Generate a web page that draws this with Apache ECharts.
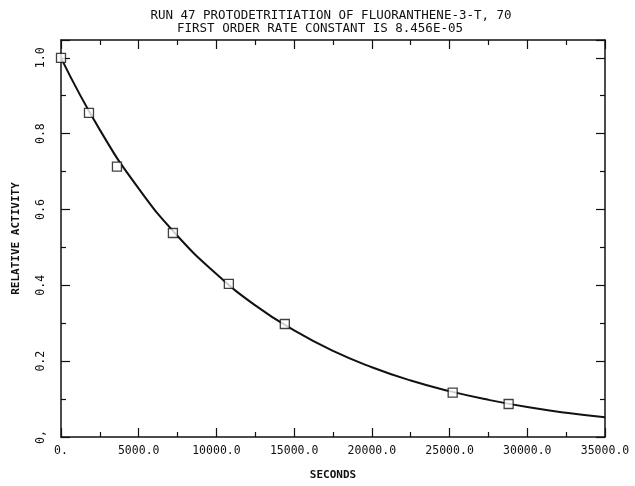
<!DOCTYPE html>
<html>
<head>
<meta charset="utf-8">
<script src="https://cdn.jsdelivr.net/npm/echarts@6/dist/echarts.min.js"></script>
<style>
  html, body { margin: 0; padding: 0; background: #fff; }
  #chart { width: 635px; height: 486px; }
</style>
</head>
<body>
<div id="chart"></div>
<script>
// measured points (seconds, relative activity)
const pointTimes = [0, 1800, 3600, 7200, 10800, 14400, 25200, 28800];
const pointValues = [1.0, 0.855, 0.713, 0.538, 0.404, 0.298, 0.117, 0.087];

// fitted curve, every 2500 s
const curveTimes = [0, 2500, 5000, 7500, 10000, 12500, 15000, 17500, 20000, 22500, 25000, 27500, 30000, 32500, 35000];
const curveValues = [1.0, 0.81, 0.655, 0.53, 0.43, 0.347, 0.281, 0.227, 0.184, 0.149, 0.121, 0.098, 0.079, 0.064, 0.052];

const titleLine1 = 'RUN 47 PROTODETRITIATION OF FLUORANTHENE-3-T, 70';
const titleLine2 = 'FIRST ORDER RATE CONSTANT IS 8.456E-05';

const font = 'DejaVu Sans Mono';
const ink = '#111';

const chart = echarts.init(document.getElementById('chart'), null, { renderer: 'canvas' });

function xLabel(v) {
    if (v === 0) return '0.';
    if (v % 5000 !== 0) return '';
    return v.toFixed(1);
}
function yLabel(v) {
    const r = Math.round(v * 10) / 10;
    if (Math.abs(r - v) > 1e-6 || Math.round(r * 10) % 2 !== 0) return '';
    if (r === 0) return '0,';
    return r.toFixed(1);
}

const tickCommon = {
    axisLine: { show: true, onZero: false, lineStyle: { color: ink, width: 1.5 } },
    axisTick: { show: true, inside: true, length: 9, lineStyle: { color: ink, width: 1.2 } },
    minorTick: { show: true, splitNumber: 2, length: 5, lineStyle: { color: ink, width: 1.2 } },
    splitLine: { show: false },
    minorSplitLine: { show: false }
};

const titleStyle = { fontFamily: font, fontSize: 12.5, fontWeight: 'normal', color: ink };

const option = {
    backgroundColor: '#fff',
    animation: false,
    title: [
        { text: titleLine1, left: 326, textAlign: 'center', top: 4, textStyle: titleStyle },
        { text: titleLine2, left: 315, textAlign: 'center', top: 17, textStyle: titleStyle }
    ],
    grid: { left: 61, right: 30, top: 40, bottom: 40 },
    xAxis: [{
        type: 'value', min: 0, max: 35000, interval: 5000,
        name: 'SECONDS', nameLocation: 'middle', nameGap: 33,
        nameTextStyle: { fontFamily: font, fontSize: 11, fontWeight: 'bold', color: ink },
        axisLabel: { formatter: xLabel, fontFamily: font, fontSize: 11.5, color: ink, margin: 8 },
        ...tickCommon
    }, {
        type: 'value', min: 0, max: 35000, interval: 5000, position: 'top',
        axisLabel: { show: false },
        ...tickCommon
    }],
    yAxis: [{
        type: 'value', min: 0, max: 1.047, interval: 0.2,
        name: 'RELATIVE ACTIVITY', nameLocation: 'middle', nameGap: 39, nameRotate: 90,
        nameTextStyle: { fontFamily: font, fontSize: 11, fontWeight: 'bold', color: ink },
        axisLabel: { formatter: yLabel, rotate: 90, fontFamily: font, fontSize: 11.5, color: ink, margin: 14 },
        ...tickCommon
    }, {
        type: 'value', min: 0, max: 1.047, interval: 0.2, position: 'right',
        axisLabel: { show: false },
        ...tickCommon
    }],
    series: [{
        type: 'line',
        data: curveTimes.map((t, i) => [t, curveValues[i]]),
        smooth: true,
        showSymbol: false,
        lineStyle: { color: ink, width: 2 },
        z: 2
    }, {
        type: 'scatter',
        data: pointTimes.map((t, i) => [t, pointValues[i]]),
        symbol: 'rect',
        symbolSize: 9,
        itemStyle: { color: '#fff', borderColor: ink, borderWidth: 1.3 },
        z: 3
    }]
};

chart.setOption(option);
</script>
</body>
</html>
